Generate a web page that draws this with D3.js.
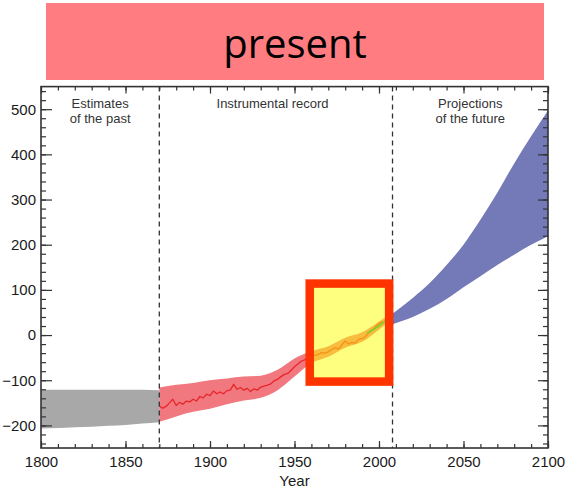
<!DOCTYPE html>
<html>
<head>
<meta charset="utf-8">
<script src="https://cdn.jsdelivr.net/npm/d3@7"></script>
<style>
  html, body { margin: 0; padding: 0; background: #fff; }
  svg { display: block; }
</style>
</head>
<body>
<svg id="chart" width="570" height="489"></svg>
<script>
// ---------------- data ----------------
const title = "present";
const xTicks = [1800, 1850, 1900, 1950, 2000, 2050, 2100];
const yTicks = [-200, -100, 0, 100, 200, 300, 400, 500];
const periodBreaks = [1870, 2008];
const periodLabels = [
  { lines: ["Estimates", "of the past"], year: 1835 },
  { lines: ["Instrumental record"], year: 1937 },
  { lines: ["Projections", "of the future"], year: 2054 }
];

// estimates of the past (grey band)
const pastYears = [1800, 1810, 1820, 1830, 1840, 1850, 1860, 1870];
const pastUpper = [-121, -121, -121, -121, -121, -121, -121, -122];
const pastLower = [-207, -206, -204, -203, -201, -199, -196, -193];

// instrumental record uncertainty band
const instYears = [1870, 1880, 1890, 1900, 1910, 1920, 1930, 1940, 1950, 1960, 1970, 1980, 1990, 2000, 2004];
const instUpper = [-116, -110, -106, -100, -96, -92, -90, -77, -52, -36, -25, -6, 6, 30, 40];
const instLower = [-192, -180, -170, -163, -153, -145, -139, -122, -92, -62, -48, -28, -15, 12, 24];

// instrumental record (red line)
const lineYears = [1870, 1872, 1874, 1876, 1878, 1880, 1882, 1884, 1886, 1888, 1890, 1892, 1894, 1896, 1898,
  1900, 1902, 1904, 1906, 1908, 1910, 1912, 1914, 1916, 1918, 1920, 1922, 1924, 1926, 1928,
  1930, 1932, 1934, 1936, 1938, 1940, 1942, 1944, 1946, 1948, 1950, 1952, 1954, 1956, 1958,
  1960, 1962, 1964, 1966, 1968, 1970, 1972, 1974, 1976, 1978, 1980, 1982, 1984, 1986, 1988,
  1990, 1992, 1994, 1996, 1998, 2000, 2002];
const lineValues = [-157, -162, -158, -150, -142, -156, -149, -153, -146, -148, -142, -146, -136, -139, -131,
  -134, -124, -130, -126, -130, -123, -122, -109, -120, -116, -122, -118, -125, -119, -122,
  -115, -113, -111, -108, -101, -98, -92, -87, -85, -78, -70, -64, -58, -55, -50,
  -48, -45, -43, -39, -40, -37, -32, -28, -31, -22, -13, -20, -16, -18, -9,
  -8, -3, 5, 11, 19, 26, 30];

// satellite record (green line)
const satYears = [1993, 1996, 1999, 2002, 2004];
const satValues = [4, 11, 18, 26, 32];

// projections of the future (blue band)
const projYears = [2008, 2020, 2030, 2040, 2050, 2060, 2070, 2080, 2090, 2100];
const projUpper = [47, 82, 115, 155, 200, 255, 315, 380, 440, 497];
const projLower = [24, 40, 58, 80, 106, 130, 155, 178, 200, 219];

// highlighted window
const highlightYears = [1959, 2006];
const highlightValues = [-103, 114];

// ---------------- drawing ----------------
const svg = d3.select("#chart");
const x = d3.scaleLinear().domain([1800, 2100]).range([41, 548]);
const y = d3.scaleLinear().domain([-250, 550]).range([448, 86.6]);
const font = "'Liberation Sans', Arial, Helvetica, sans-serif";
const axisColor = "#333";

// title banner
svg.append("rect").attr("x", 46).attr("y", 3).attr("width", 498).attr("height", 77).attr("fill", "#FF7C80");
svg.append("text").attr("x", 295).attr("y", 58).attr("text-anchor", "middle")
  .attr("font-family", "'Open Sans', sans-serif").attr("font-size", 40).attr("fill", "#000").text(title);

const plot = svg.append("g");

function band(years, up, lo) {
  const pts = years.map((yr, i) => ({ yr, u: up[i], l: lo[i] }));
  return d3.area().x(d => x(d.yr)).y0(d => y(d.l)).y1(d => y(d.u)).curve(d3.curveMonotoneX)(pts);
}

plot.append("path").attr("d", band(pastYears, pastUpper, pastLower)).attr("fill", "#A8A8A8");
plot.append("path").attr("d", band(instYears, instUpper, instLower)).attr("fill", "#F0787E");
plot.append("path").attr("d", band(projYears, projUpper, projLower)).attr("fill", "#7479B8");

plot.append("path")
  .attr("d", d3.line().x((d, i) => x(lineYears[i])).y(d => y(d))(lineValues))
  .attr("fill", "none").attr("stroke", "#E8262A").attr("stroke-width", 1.3).attr("stroke-linejoin", "round");

// period separators
periodBreaks.forEach(b => {
  plot.append("line").attr("x1", x(b)).attr("x2", x(b)).attr("y1", y(550)).attr("y2", y(-250))
    .attr("stroke", "#333").attr("stroke-width", 1.3).attr("stroke-dasharray", "5,4");
});

// period labels
periodLabels.forEach(p => {
  p.lines.forEach((ln, i) => {
    plot.append("text").attr("text-anchor", "middle").attr("font-family", font)
      .attr("font-size", 13).attr("fill", "#333")
      .attr("x", x(p.year)).attr("y", 108 + i * 15).text(ln);
  });
});

// axes
const majorX = xTicks;
const minorX = d3.range(1800, 2101, 10);
const majorY = yTicks;
const minorY = d3.range(-240, 541, 20);

function styleAxis(g) {
  g.select(".domain").remove();
  g.selectAll("line").attr("stroke", axisColor).attr("stroke-width", 1.2);
  g.selectAll("text").attr("font-family", font).attr("font-size", 15).attr("fill", "#1a1a1a");
}

svg.append("g").attr("transform", `translate(0,${y(-250)})`)
  .call(d3.axisBottom(x).tickValues(minorX).tickSize(-4).tickFormat("")).call(styleAxis);
svg.append("g").attr("transform", `translate(0,${y(-250)})`)
  .call(d3.axisBottom(x).tickValues(majorX).tickSize(-7).tickPadding(8).tickFormat(d3.format("d"))).call(styleAxis);
svg.append("g").attr("transform", `translate(0,${y(550)})`)
  .call(d3.axisTop(x).tickValues(minorX).tickSize(-4).tickFormat("")).call(styleAxis);
svg.append("g").attr("transform", `translate(0,${y(550)})`)
  .call(d3.axisTop(x).tickValues(majorX).tickSize(-7).tickFormat("")).call(styleAxis);

svg.append("g").attr("transform", `translate(${x(1800)},0)`)
  .call(d3.axisLeft(y).tickValues(minorY).tickSize(-5).tickFormat("")).call(styleAxis);
svg.append("g").attr("transform", `translate(${x(1800)},0)`)
  .call(d3.axisLeft(y).tickValues(majorY).tickSize(-11).tickPadding(5).tickFormat(d3.format("d"))).call(styleAxis);
svg.append("g").attr("transform", `translate(${x(2100)},0)`)
  .call(d3.axisRight(y).tickValues(minorY).tickSize(-5).tickFormat("")).call(styleAxis);
svg.append("g").attr("transform", `translate(${x(2100)},0)`)
  .call(d3.axisRight(y).tickValues(majorY).tickSize(-10).tickFormat("")).call(styleAxis);

// frame
svg.append("rect").attr("x", x(1800)).attr("y", y(550)).attr("width", x(2100) - x(1800)).attr("height", y(-250) - y(550))
  .attr("fill", "none").attr("stroke", axisColor).attr("stroke-width", 1.6);

svg.append("text").attr("x", x(1950)).attr("y", 486).attr("text-anchor", "middle")
  .attr("font-family", font).attr("font-size", 15).attr("fill", "#1a1a1a").text("Year");

// highlight window
const hx0 = x(highlightYears[0]), hx1 = x(highlightYears[1]);
const hy0 = y(highlightValues[1]), hy1 = y(highlightValues[0]);
svg.append("rect").attr("x", hx0).attr("y", hy0).attr("width", hx1 - hx0).attr("height", hy1 - hy0)
  .attr("fill", "#FFFF00").attr("fill-opacity", 0.5);
svg.append("path")
  .attr("d", d3.line().x((d, i) => x(satYears[i])).y(d => y(d))(satValues))
  .attr("fill", "none").attr("stroke", "#8CCB2A").attr("stroke-width", 2);
svg.append("rect").attr("x", hx0).attr("y", hy0).attr("width", hx1 - hx0).attr("height", hy1 - hy0)
  .attr("fill", "none").attr("stroke", "#FF3300").attr("stroke-width", 8.5);
</script>
</body>
</html>
